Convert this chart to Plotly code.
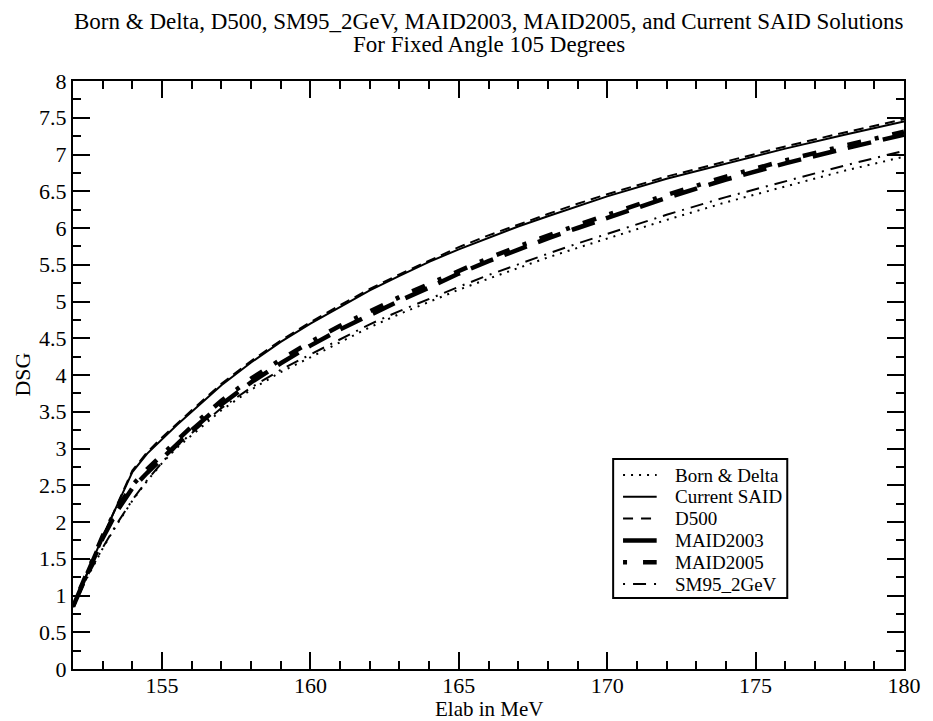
import plotly.graph_objects as go

# Photon lab energy grid (MeV)
energy = [152.0, 152.5, 153.0, 153.5, 154.0, 154.5, 155.0, 155.5, 156.0, 157.0,
          158.0, 159.0, 160.0, 161.0, 162.0, 163.0, 164.0, 165.0, 166.0, 167.0,
          168.0, 169.0, 170.0, 172.0, 174.0, 176.0, 178.0, 180.0]

# Differential cross sections at 105 degrees for each solution
born_delta = [0.84, 1.26, 1.64, 1.98, 2.29, 2.56, 2.80, 3.01, 3.18, 3.52,
              3.80, 4.04, 4.24, 4.45, 4.65, 4.83, 5.00, 5.16, 5.31, 5.46,
              5.60, 5.73, 5.86, 6.11, 6.35, 6.57, 6.78, 6.97]
current_said = [0.85, 1.32, 1.80, 2.24, 2.68, 2.93, 3.13, 3.32, 3.50, 3.86,
                4.17, 4.45, 4.70, 4.93, 5.15, 5.35, 5.54, 5.71, 5.87, 6.02,
                6.16, 6.30, 6.43, 6.67, 6.88, 7.08, 7.27, 7.45]
d500 = [0.85, 1.32, 1.80, 2.25, 2.70, 2.95, 3.15, 3.34, 3.52, 3.88,
        4.19, 4.47, 4.72, 4.95, 5.17, 5.37, 5.56, 5.74, 5.90, 6.05,
        6.19, 6.33, 6.46, 6.70, 6.91, 7.11, 7.30, 7.48]
maid2003 = [0.85, 1.32, 1.78, 2.16, 2.46, 2.67, 2.87, 3.07, 3.25, 3.60,
            3.90, 4.16, 4.40, 4.62, 4.82, 5.01, 5.19, 5.38, 5.55, 5.71,
            5.86, 6.00, 6.14, 6.41, 6.66, 6.88, 7.08, 7.27]
maid2005 = [0.86, 1.34, 1.81, 2.20, 2.50, 2.72, 2.92, 3.12, 3.30, 3.65,
            3.95, 4.21, 4.45, 4.67, 4.87, 5.06, 5.24, 5.42, 5.59, 5.75,
            5.90, 6.04, 6.18, 6.45, 6.70, 6.92, 7.12, 7.31]
sm95_2gev = [0.85, 1.27, 1.65, 1.99, 2.30, 2.57, 2.81, 3.03, 3.21, 3.55,
             3.83, 4.07, 4.28, 4.49, 4.69, 4.87, 5.04, 5.20, 5.36, 5.51,
             5.65, 5.79, 5.92, 6.18, 6.42, 6.64, 6.85, 7.05]

series_names = ["Born & Delta", "Current SAID", "D500", "MAID2003", "MAID2005", "SM95_2GeV"]
series_values = [born_delta, current_said, d500, maid2003, maid2005, sm95_2gev]

# line styles: (width, dash pattern in plot, dash pattern in legend key)
styles = [
    (2.0, "2px,6px", "2px,6px"),
    (2.0, "solid", "solid"),
    (2.0, "10px,6px", "10px,8px"),
    (4.5, "24px,12px", "solid"),
    (4.5, "4px,14px,14px,14px", "4px,16px,14px,14px"),
    (2.0, "2px,7px,13px,7px", "2px,8px,13px,8px"),
]

FONT = "Liberation Serif"
W, H = 933, 721
L, R, T, B = 73, 20, 81, 52
PW, PH = W - L - R, H - T - B


def px_x(x):
    return (x - L) / PW


def px_y(y):
    return (H - B - y) / PH


fig = go.Figure()
for name, vals, (w, dash, _) in zip(series_names, series_values, styles):
    fig.add_trace(go.Scatter(
        x=energy, y=vals, name=name, mode="lines",
        line=dict(color="black", width=w, dash=dash),
        showlegend=False,
    ))

axis_common = dict(
    showline=True, linecolor="black", linewidth=2, mirror="ticks",
    ticks="inside", ticklen=17, tickwidth=2, tickcolor="black",
    showgrid=False, zeroline=False,
    tickfont=dict(family=FONT, size=22, color="black"),
)

fig.update_xaxes(range=[152, 180], tick0=150, dtick=5, ticklabelstandoff=-4,
                 minor=dict(ticks="inside", ticklen=8, tickwidth=2, tickcolor="black",
                            dtick=1, tick0=150, showgrid=False),
                 **axis_common)
fig.update_yaxes(range=[0, 8], tick0=0, dtick=0.5,
                 minor=dict(ticks="inside", ticklen=8, tickwidth=2, tickcolor="black",
                            dtick=0.25, tick0=0, showgrid=False),
                 **axis_common)

annotations = [
    dict(text="Born & Delta, D500, SM95_2GeV, MAID2003, MAID2005, and Current SAID Solutions",
         x=0.5, y=px_y(22), xref="paper", yref="paper", showarrow=False,
         xanchor="center", yanchor="middle", font=dict(family=FONT, size=23, color="black")),
    dict(text="For Fixed Angle 105 Degrees",
         x=0.5, y=px_y(45), xref="paper", yref="paper", showarrow=False,
         xanchor="center", yanchor="middle", font=dict(family=FONT, size=23, color="black")),
    dict(text="Elab in MeV", x=0.5, y=px_y(709), xref="paper", yref="paper",
         showarrow=False, xanchor="center", yanchor="middle",
         font=dict(family=FONT, size=21, color="black")),
    dict(text="DSG", x=px_x(21), y=px_y(375), xref="paper", yref="paper",
         showarrow=False, xanchor="center", yanchor="middle", textangle=-90,
         font=dict(family=FONT, size=22, color="black")),
]

# legend box drawn as a framed key
shapes = [dict(type="rect", xref="paper", yref="paper",
               x0=px_x(619), x1=px_x(795), y0=px_y(598), y1=px_y(459),
               line=dict(color="black", width=2), fillcolor="white", layer="above")]
row_y0, row_step = 475, 21.8
for i, (name, (w, _, kdash)) in enumerate(zip(series_names, styles)):
    yy = px_y(row_y0 + i * row_step)
    shapes.append(dict(type="line", xref="paper", yref="paper",
                       x0=px_x(629), x1=px_x(663), y0=yy, y1=yy,
                       line=dict(color="black", width=w, dash=kdash), layer="above"))
    annotations.append(dict(text=name, x=px_x(679), y=yy, xref="paper", yref="paper",
                            showarrow=False, xanchor="left", yanchor="middle",
                            font=dict(family=FONT, size=19, color="black")))

fig.update_layout(
    width=W, height=H,
    font=dict(family=FONT, color="black"),
    margin=dict(l=L, r=R, t=T, b=B, pad=0),
    paper_bgcolor="white", plot_bgcolor="white",
    showlegend=False,
    annotations=annotations, shapes=shapes,
)

fig.write_html("out.html")
